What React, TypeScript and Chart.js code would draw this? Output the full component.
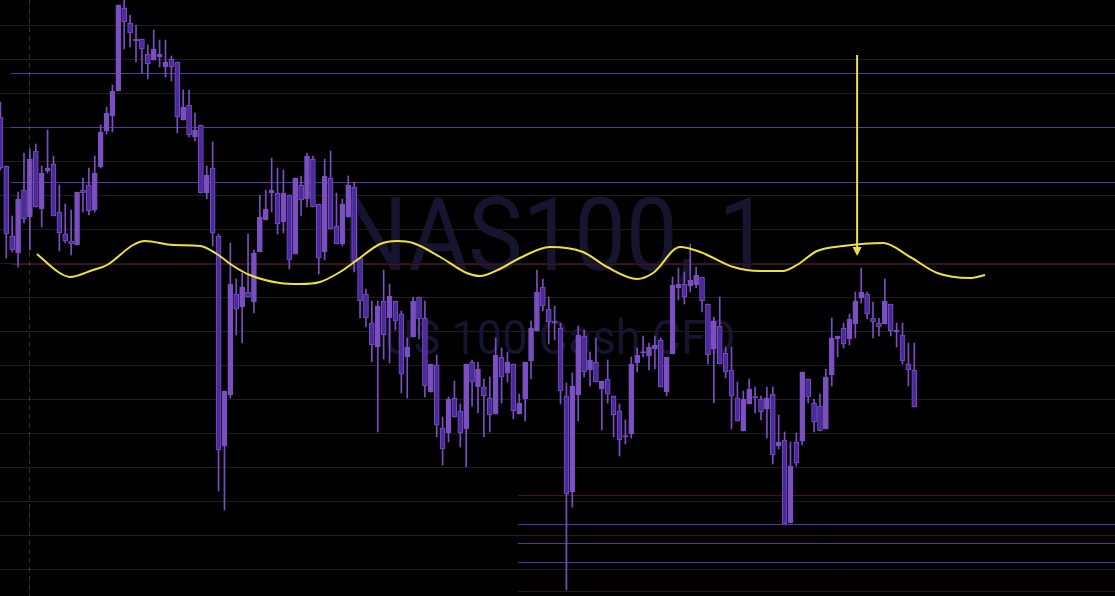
import React, { useEffect, useRef } from "react";
import { Chart, registerables } from "chart.js";

Chart.register(...registerables);

// ---------- data ----------
// candle index of the first element (one partially visible candle at the left edge)
const FIRST_INDEX = -1;

const opens = [
  15483, 15434, 15364, 15347, 15410, 15383, 15449, 15391, 15429, 15436,
  15388, 15366, 15359, 15355, 15410, 15415, 15390, 15433, 15469, 15484,
  15509, 15592, 15577, 15559, 15561, 15546, 15540, 15543, 15533, 15541,
  15538, 15480, 15495, 15463, 15475, 15407, 15432, 15364, 15154, 15205,
  15306, 15293, 15308, 15298, 15348, 15380, 15407, 15407, 15378, 15405,
  15346, 15415, 15401, 15441, 15396, 15348, 15422, 15374, 15356, 15383,
  15413, 15342, 15306, 15277, 15253, 15299, 15282, 15299, 15286, 15243,
  15263, 15303, 15282, 15208, 15235, 15172, 15167, 15202, 15189, 15171,
  15238, 15213, 15213, 15202, 15186, 15243, 15227, 15236, 15186, 15201,
  15239, 15269, 15313, 15291, 15277, 15272, 15204, 15108, 15205, 15264,
  15230, 15238, 15211, 15221, 15204, 15189, 15163, 15166, 15237, 15247,
  15244, 15251, 15260, 15208, 15246, 15312, 15316, 15314, 15315, 15323,
  15296, 15251, 15274, 15247, 15230, 15202, 15169, 15196, 15202, 15201,
  15191, 15206, 15154, 15160, 15077, 15158, 15159, 15221, 15197, 15194,
  15171, 15225, 15261, 15272, 15261, 15276, 15302, 15306, 15282, 15277,
  15276, 15296, 15268, 15265, 15236, 15230,
];

const highs = [
  15498, 15434, 15384, 15408, 15447, 15451, 15456, 15434, 15470, 15444,
  15415, 15396, 15390, 15408, 15422, 15432, 15444, 15475, 15493, 15515,
  15595, 15600, 15585, 15575, 15561, 15555, 15570, 15560, 15560, 15544,
  15538, 15510, 15510, 15487, 15475, 15434, 15458, 15366, 15209, 15357,
  15321, 15327, 15366, 15350, 15405, 15410, 15442, 15432, 15430, 15405,
  15422, 15424, 15447, 15444, 15396, 15441, 15449, 15407, 15401, 15424,
  15418, 15342, 15311, 15299, 15299, 15330, 15316, 15299, 15289, 15262,
  15303, 15303, 15299, 15236, 15245, 15183, 15203, 15219, 15196, 15236,
  15240, 15238, 15221, 15223, 15262, 15252, 15248, 15236, 15206, 15238,
  15279, 15330, 15321, 15303, 15294, 15277, 15217, 15227, 15274, 15270,
  15248, 15262, 15219, 15240, 15204, 15196, 15180, 15243, 15252, 15264,
  15257, 15264, 15262, 15243, 15323, 15332, 15328, 15356, 15333, 15323,
  15296, 15283, 15303, 15253, 15253, 15218, 15209, 15221, 15213, 15204,
  15213, 15213, 15185, 15168, 15158, 15167, 15228, 15221, 15201, 15206,
  15231, 15282, 15264, 15277, 15286, 15308, 15332, 15308, 15298, 15282,
  15321, 15296, 15277, 15277, 15257, 15257,
];

const lows = [
  15430, 15342, 15348, 15333, 15377, 15350, 15393, 15373, 15427, 15384,
  15349, 15357, 15345, 15355, 15388, 15385, 15388, 15432, 15466, 15468,
  15509, 15551, 15553, 15538, 15527, 15521, 15540, 15533, 15523, 15519,
  15467, 15480, 15463, 15459, 15407, 15401, 15354, 15109, 15090, 15202,
  15265, 15257, 15303, 15287, 15348, 15380, 15388, 15366, 15367, 15331,
  15346, 15384, 15393, 15393, 15326, 15340, 15371, 15356, 15354, 15383,
  15328, 15282, 15273, 15238, 15168, 15241, 15237, 15270, 15207, 15202,
  15263, 15261, 15203, 15208, 15163, 15135, 15158, 15183, 15153, 15133,
  15194, 15187, 15163, 15168, 15186, 15197, 15218, 15181, 15186, 15179,
  15221, 15269, 15289, 15256, 15260, 15196, 15010, 15093, 15179, 15223,
  15214, 15218, 15170, 15197, 15163, 15144, 15156, 15162, 15228, 15243,
  15230, 15231, 15213, 15204, 15246, 15300, 15296, 15308, 15312, 15288,
  15236, 15197, 15236, 15222, 15171, 15179, 15169, 15196, 15187, 15180,
  15162, 15136, 15151, 15076, 15077, 15134, 15155, 15197, 15168, 15169,
  15171, 15214, 15243, 15252, 15255, 15262, 15297, 15281, 15262, 15264,
  15276, 15264, 15253, 15236, 15214, 15193,
];

const closes = [
  15432, 15366, 15350, 15401, 15381, 15441, 15393, 15427, 15432, 15384,
  15367, 15359, 15356, 15408, 15407, 15389, 15427, 15468, 15487, 15509,
  15595, 15578, 15567, 15561, 15551, 15536, 15551, 15546, 15538, 15533,
  15483, 15493, 15465, 15470, 15407, 15425, 15367, 15150, 15209, 15316,
  15291, 15313, 15303, 15347, 15383, 15391, 15410, 15376, 15407, 15340,
  15422, 15400, 15444, 15393, 15342, 15424, 15371, 15356, 15396, 15415,
  15338, 15299, 15282, 15255, 15294, 15265, 15304, 15279, 15226, 15253,
  15299, 15281, 15214, 15236, 15175, 15151, 15201, 15183, 15167, 15236,
  15218, 15231, 15204, 15185, 15245, 15223, 15238, 15189, 15197, 15238,
  15272, 15308, 15294, 15278, 15277, 15209, 15106, 15214, 15265, 15228,
  15240, 15218, 15219, 15206, 15185, 15160, 15163, 15236, 15245, 15247,
  15253, 15255, 15213, 15243, 15315, 15316, 15303, 15320, 15325, 15299,
  15245, 15279, 15236, 15228, 15204, 15179, 15201, 15211, 15202, 15188,
  15202, 15145, 15158, 15076, 15134, 15137, 15228, 15203, 15178, 15169,
  15223, 15262, 15264, 15256, 15281, 15299, 15308, 15286, 15278, 15273,
  15299, 15269, 15270, 15239, 15230, 15193,
];

// smoothed yellow curve (candle index, price)
const maIndex = [
  5.2, 8.8, 10.8, 14.7, 17.1, 21.5, 23.5, 28.3, 32.9, 35.7,
  38.5, 41.3, 46.4, 49.8, 53.2, 56.6, 59.5, 63.4, 66.3, 69.0,
  73.6, 78.1, 80.3, 83.7, 87.1, 92.2, 97.8, 101.9, 107.0, 109.7,
  114.3, 117.7, 123.3, 127.8, 131.7, 134.1, 137.5, 141.9, 148.7, 153.3,
  157.9, 163.5, 166.0,
];
const maValues = [
  15346, 15328, 15323, 15330, 15335, 15355, 15359, 15355, 15354, 15346,
  15334, 15325, 15317, 15316, 15318, 15328, 15340, 15356, 15359, 15357,
  15343, 15327, 15324, 15331, 15342, 15353, 15348, 15333, 15321, 15327,
  15353, 15348, 15333, 15329, 15329, 15335, 15349, 15354, 15357, 15343,
  15327, 15322, 15325,
];

// horizontal price levels and the candle index where each starts
const levelPrices = [15527, 15473, 15418, 15336, 15105, 15076, 15057, 15038, 15009];
const levelStartIndex = [0.8, 0.8, 0.8, 0.8, 86.8, 86.8, 86.8, 86.8, 86.8];

// background grid prices
const gridPrices = [
  15575, 15541, 15507, 15473, 15439, 15405, 15371, 15337, 15303,
  15269, 15235, 15201, 15167, 15133, 15099, 15065, 15031,
];

// vertical dashed session marker and the arrow
const markerIndex = 3.9;
const arrowIndex = 144.3;
const arrowFromPrice = 15545;
const arrowToPrice = 15344;

const watermarkTitle = "NAS100, 1";
const watermarkSubtitle = "US 100 Cash CFD";

// ---------- styles ----------
const W = 1115;
const H = 596;
const X_MIN = -1.0685;
const X_MAX = 188.04;
const Y_MIN = 15004;
const Y_MAX = 15600;
const UP_COLOR = "#7a4fc1";
const DOWN_FILL = "#4b2a9d";
const WICK_COLOR = "#7a4fc1";
const YELLOW = "#ede23c";
const GRID_COLOR = "#1e1e1e";
const LEVEL_COLORS = ["#4f37a6", "#682c9c", "#5535b0", "#4a1218", "#4a1218", "#5535b0", "#682c9c", "#5535b0", "#3a1014"];
const WATERMARK_COLOR = "#17142f";

export default function App() {
  const canvasRef = useRef<HTMLCanvasElement | null>(null);

  useEffect(() => {
    document.body.style.margin = "0";
    document.body.style.background = "#000";
    const canvas = canvasRef.current;
    if (!canvas) return;

    const bodies = opens.map((o, i) => ({ x: i + FIRST_INDEX, y: [o, closes[i]] }));
    const wicks = highs.map((h, i) => ({ x: i + FIRST_INDEX, y: [lows[i], h] }));
    const isDown = opens.map((o, i) => closes[i] < o);
    const bodyFill = isDown.map((d) => (d ? DOWN_FILL : UP_COLOR));
    const ma = maIndex.map((x, i) => ({ x, y: maValues[i] }));

    const drawSqueezed = (ctx: CanvasRenderingContext2D, text: string, cx: number, by: number, font: string, sx: number) => {
      ctx.save();
      ctx.translate(cx, by);
      ctx.scale(sx, 1);
      ctx.font = font;
      ctx.fillText(text, 0, 0);
      ctx.restore();
    };

    const backgroundPlugin = {
      id: "tvBackground",
      beforeDatasetsDraw(chart: any) {
        const { ctx, chartArea, scales } = chart;
        const xs = scales.x;
        const ys = scales.y;
        ctx.save();
        ctx.fillStyle = "#000";
        ctx.fillRect(0, 0, chart.width, chart.height);
        // grid
        ctx.strokeStyle = GRID_COLOR;
        ctx.lineWidth = 1;
        gridPrices.forEach((p) => {
          const y = Math.round(ys.getPixelForValue(p)) + 0.5;
          ctx.beginPath();
          ctx.moveTo(chartArea.left, y);
          ctx.lineTo(chartArea.right, y);
          ctx.stroke();
        });
        // watermark
        ctx.fillStyle = WATERMARK_COLOR;
        ctx.textAlign = "center";
        ctx.textBaseline = "alphabetic";
        drawSqueezed(ctx, watermarkTitle, 556, 270, "102px Roboto", 0.9);
        drawSqueezed(ctx, watermarkSubtitle, 560, 354, "49px Roboto", 0.92);
        // levels
        levelPrices.forEach((p, i) => {
          const y = Math.round(ys.getPixelForValue(p)) + 0.5;
          const x0 = xs.getPixelForValue(levelStartIndex[i]);
          ctx.strokeStyle = LEVEL_COLORS[i];
          ctx.beginPath();
          ctx.moveTo(x0, y);
          ctx.lineTo(chartArea.right, y);
          ctx.stroke();
        });
        ctx.restore();
      },
    };

    const overlayPlugin = {
      id: "tvOverlay",
      afterDatasetsDraw(chart: any) {
        const { ctx, chartArea, scales } = chart;
        const xs = scales.x;
        const ys = scales.y;
        ctx.save();
        // dashed marker
        const mx = Math.round(xs.getPixelForValue(markerIndex)) + 0.5;
        ctx.strokeStyle = "rgba(150,150,150,0.35)";
        ctx.lineWidth = 1;
        ctx.setLineDash([5, 4]);
        ctx.beginPath();
        ctx.moveTo(mx, chartArea.top);
        ctx.lineTo(mx, chartArea.bottom);
        ctx.stroke();
        ctx.setLineDash([]);
        // arrow
        const ax = xs.getPixelForValue(arrowIndex);
        const ay0 = ys.getPixelForValue(arrowFromPrice);
        const ay1 = ys.getPixelForValue(arrowToPrice);
        ctx.strokeStyle = YELLOW;
        ctx.fillStyle = YELLOW;
        ctx.lineWidth = 2;
        ctx.beginPath();
        ctx.moveTo(ax, ay0);
        ctx.lineTo(ax, ay1 - 8);
        ctx.stroke();
        ctx.beginPath();
        ctx.moveTo(ax - 4.5, ay1 - 9);
        ctx.lineTo(ax + 4.5, ay1 - 9);
        ctx.lineTo(ax, ay1);
        ctx.closePath();
        ctx.fill();
        ctx.restore();
      },
    };

    const chart = new Chart(canvas, {
      type: "bar",
      data: {
        datasets: [
          {
            type: "line",
            label: "MA",
            data: ma,
            borderColor: YELLOW,
            borderWidth: 2,
            pointRadius: 0,
            tension: 0.4,
            cubicInterpolationMode: "monotone",
            fill: false,
            order: 0,
          } as any,
          {
            type: "bar",
            label: "body",
            data: bodies,
            backgroundColor: bodyFill,
            borderColor: UP_COLOR,
            borderWidth: 1,
            borderSkipped: false,
            barThickness: 5,
            minBarLength: 1.5,
            grouped: false,
            order: 1,
          } as any,
          {
            type: "bar",
            label: "wick",
            data: wicks,
            backgroundColor: WICK_COLOR,
            borderWidth: 0,
            barThickness: 1,
            grouped: false,
            order: 2,
          } as any,
        ],
      },
      options: {
        animation: false,
        responsive: false,
        maintainAspectRatio: false,
        layout: { padding: 0 },
        plugins: { legend: { display: false }, tooltip: { enabled: false } },
        scales: {
          x: { type: "linear", min: X_MIN, max: X_MAX, display: false, offset: false },
          y: { type: "linear", min: Y_MIN, max: Y_MAX, display: false },
        },
      } as any,
      plugins: [backgroundPlugin, overlayPlugin],
    });

    return () => chart.destroy();
  }, []);

  return (
    <div style={{ width: W, height: H, background: "#000" }}>
      <canvas ref={canvasRef} width={W} height={H} style={{ display: "block" }} />
    </div>
  );
}
